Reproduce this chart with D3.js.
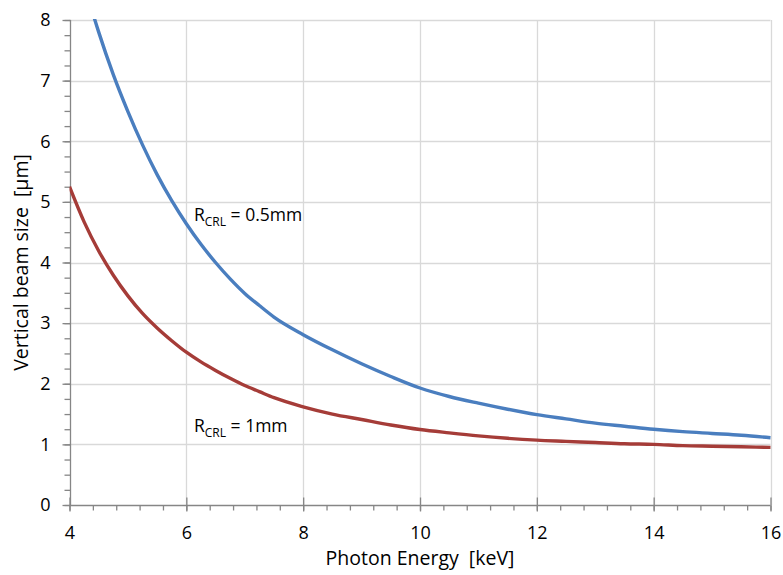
<!DOCTYPE html>
<html>
<head>
<meta charset="utf-8">
<script src="https://cdn.jsdelivr.net/npm/d3@7"></script>
<style>
  html, body { margin: 0; padding: 0; background: #fff; }
  svg { display: block; font-family: "Open Sans", "Noto Sans", sans-serif; }
  text { white-space: pre; }
</style>
</head>
<body>
<svg id="chart" width="783" height="575"></svg>
<script>
// Photon energy grid [keV]
const energy = [4.0, 4.25, 4.5, 4.75, 5.0, 5.25, 5.5, 5.75, 6.0, 6.25, 6.5, 6.75, 7.0, 7.25, 7.5,
                8.0, 8.5, 9.0, 9.5, 10.0, 10.5, 11.0, 11.5, 12.0, 12.5, 13.0, 13.5, 14.0, 14.5, 15.0, 15.5, 16.0];

// Vertical beam size [µm] for R_CRL = 0.5 mm
const size05 = [9.5, 8.6, 7.8, 7.10, 6.49, 5.94, 5.45, 5.02, 4.64, 4.30, 4.00, 3.73, 3.49, 3.29, 3.10,
                2.81, 2.56, 2.33, 2.12, 1.93, 1.79, 1.68, 1.58, 1.49, 1.42, 1.35, 1.30, 1.25, 1.21, 1.18, 1.15, 1.11];

// Vertical beam size [µm] for R_CRL = 1 mm
const size1 = [5.25, 4.67, 4.19, 3.79, 3.45, 3.16, 2.92, 2.71, 2.52, 2.36, 2.22, 2.09, 1.97, 1.87, 1.77,
               1.62, 1.50, 1.41, 1.32, 1.245, 1.19, 1.14, 1.10, 1.07, 1.05, 1.03, 1.01, 1.00, 0.98, 0.97, 0.96, 0.95];

const xTicks = [4, 6, 8, 10, 12, 14, 16];
const yTicks = [0, 1, 2, 3, 4, 5, 6, 7, 8];

const svg = d3.select("#chart");
const pLeft = 69.5, pRight = 770.5, pTop = 20, pBottom = 505;

const x = d3.scaleLinear().domain([4, 16]).range([pLeft, pRight]);
const y = d3.scaleLinear().domain([0, 8]).range([pBottom, pTop]);

const gridColor = "#d9d9d9";
const axisColor = "#868686";

svg.append("defs").append("clipPath").attr("id", "plotClip")
  .append("rect").attr("x", pLeft).attr("y", pTop - 1).attr("width", pRight - pLeft + 2).attr("height", pBottom - pTop + 1);

// Gridlines
svg.append("g").selectAll("line").data(yTicks.filter(d => d > 0)).join("line")
  .attr("x1", pLeft).attr("x2", pRight)
  .attr("y1", d => Math.round(y(d)) + 0.5).attr("y2", d => Math.round(y(d)) + 0.5)
  .attr("stroke", gridColor).attr("stroke-width", 1.3);
svg.append("g").selectAll("line").data(xTicks.filter(d => d > 4)).join("line")
  .attr("x1", d => Math.round(x(d)) + 0.5).attr("x2", d => Math.round(x(d)) + 0.5)
  .attr("y1", pTop).attr("y2", pBottom)
  .attr("stroke", gridColor).attr("stroke-width", 1.3);

// Y axis: major ticks outward, minor ticks every 0.25
const yAxis = svg.append("g").attr("transform", `translate(${Math.round(pLeft) + 0.5},0)`)
  .call(d3.axisLeft(y).tickValues(d3.range(0, 8.001, 0.25)).tickSize(6).tickFormat(""));
const yMajor = svg.append("g").attr("transform", `translate(${Math.round(pLeft) + 0.5},0)`)
  .call(d3.axisLeft(y).tickValues(yTicks).tickSize(8).tickPadding(12).tickFormat(d3.format("d")));

// X axis: major ticks crossing the axis, minor ticks every 0.4
const xAxis = svg.append("g").attr("transform", `translate(0,${Math.round(pBottom) + 0.5})`)
  .call(d3.axisBottom(x).tickValues(d3.range(4, 16.001, 0.4)).tickSize(5).tickFormat(""));
const xMajor = svg.append("g").attr("transform", `translate(0,${Math.round(pBottom) + 0.5})`)
  .call(d3.axisBottom(x).tickValues(xTicks).tickSize(6).tickPadding(15).tickFormat(d3.format("d")));
xMajor.selectAll(".tick line").attr("y1", -8);

[yAxis, yMajor, xAxis, xMajor].forEach(g => {
  g.select(".domain").attr("stroke", axisColor).attr("stroke-width", 1.3);
  g.selectAll(".tick line").attr("stroke", axisColor).attr("stroke-width", 1.3);
  g.selectAll(".tick text").attr("fill", "#000").attr("font-size", 18)
    .attr("font-family", "'Open Sans', sans-serif");
});
yAxis.select(".domain").attr("d", `M0,${pBottom}V${pTop}`);
xAxis.select(".domain").attr("d", `M${pLeft},0H${pRight}`);
yMajor.select(".domain").remove();
xMajor.select(".domain").remove();

// Curves
const line = d3.line().x(d => x(d[0])).y(d => y(d[1])).curve(d3.curveMonotoneX);
const plot = svg.append("g").attr("clip-path", "url(#plotClip)");
plot.append("path").datum(d3.zip(energy, size1))
  .attr("d", line).attr("fill", "none").attr("stroke", "#a53c38").attr("stroke-width", 3.4)
  .attr("stroke-linejoin", "round");
plot.append("path").datum(d3.zip(energy, size05))
  .attr("d", line).attr("fill", "none").attr("stroke", "#4a7ebf").attr("stroke-width", 3.4)
  .attr("stroke-linejoin", "round");

// Curve labels
function rLabel(xp, yp, rest) {
  const t = svg.append("text").attr("x", xp).attr("y", yp)
    .attr("font-size", 17.5).attr("fill", "#000");
  t.append("tspan").text("R");
  t.append("tspan").attr("font-size", 12).attr("dy", 5).text("CRL");
  t.append("tspan").attr("dy", -5).text(" = " + rest);
}
rLabel(194, 221, "0.5mm");
rLabel(194, 432, "1mm");

// Axis titles
svg.append("text").attr("x", (pLeft + pRight) / 2).attr("y", 565)
  .attr("text-anchor", "middle").attr("font-size", 19.5).attr("fill", "#000")
  .text("Photon Energy  [keV]");
svg.append("text").attr("transform", `translate(28,${(pTop + pBottom) / 2}) rotate(-90)`)
  .attr("text-anchor", "middle").attr("font-size", 19.5).attr("fill", "#000")
  .text("Vertical beam size  [µm]");
</script>
</body>
</html>
